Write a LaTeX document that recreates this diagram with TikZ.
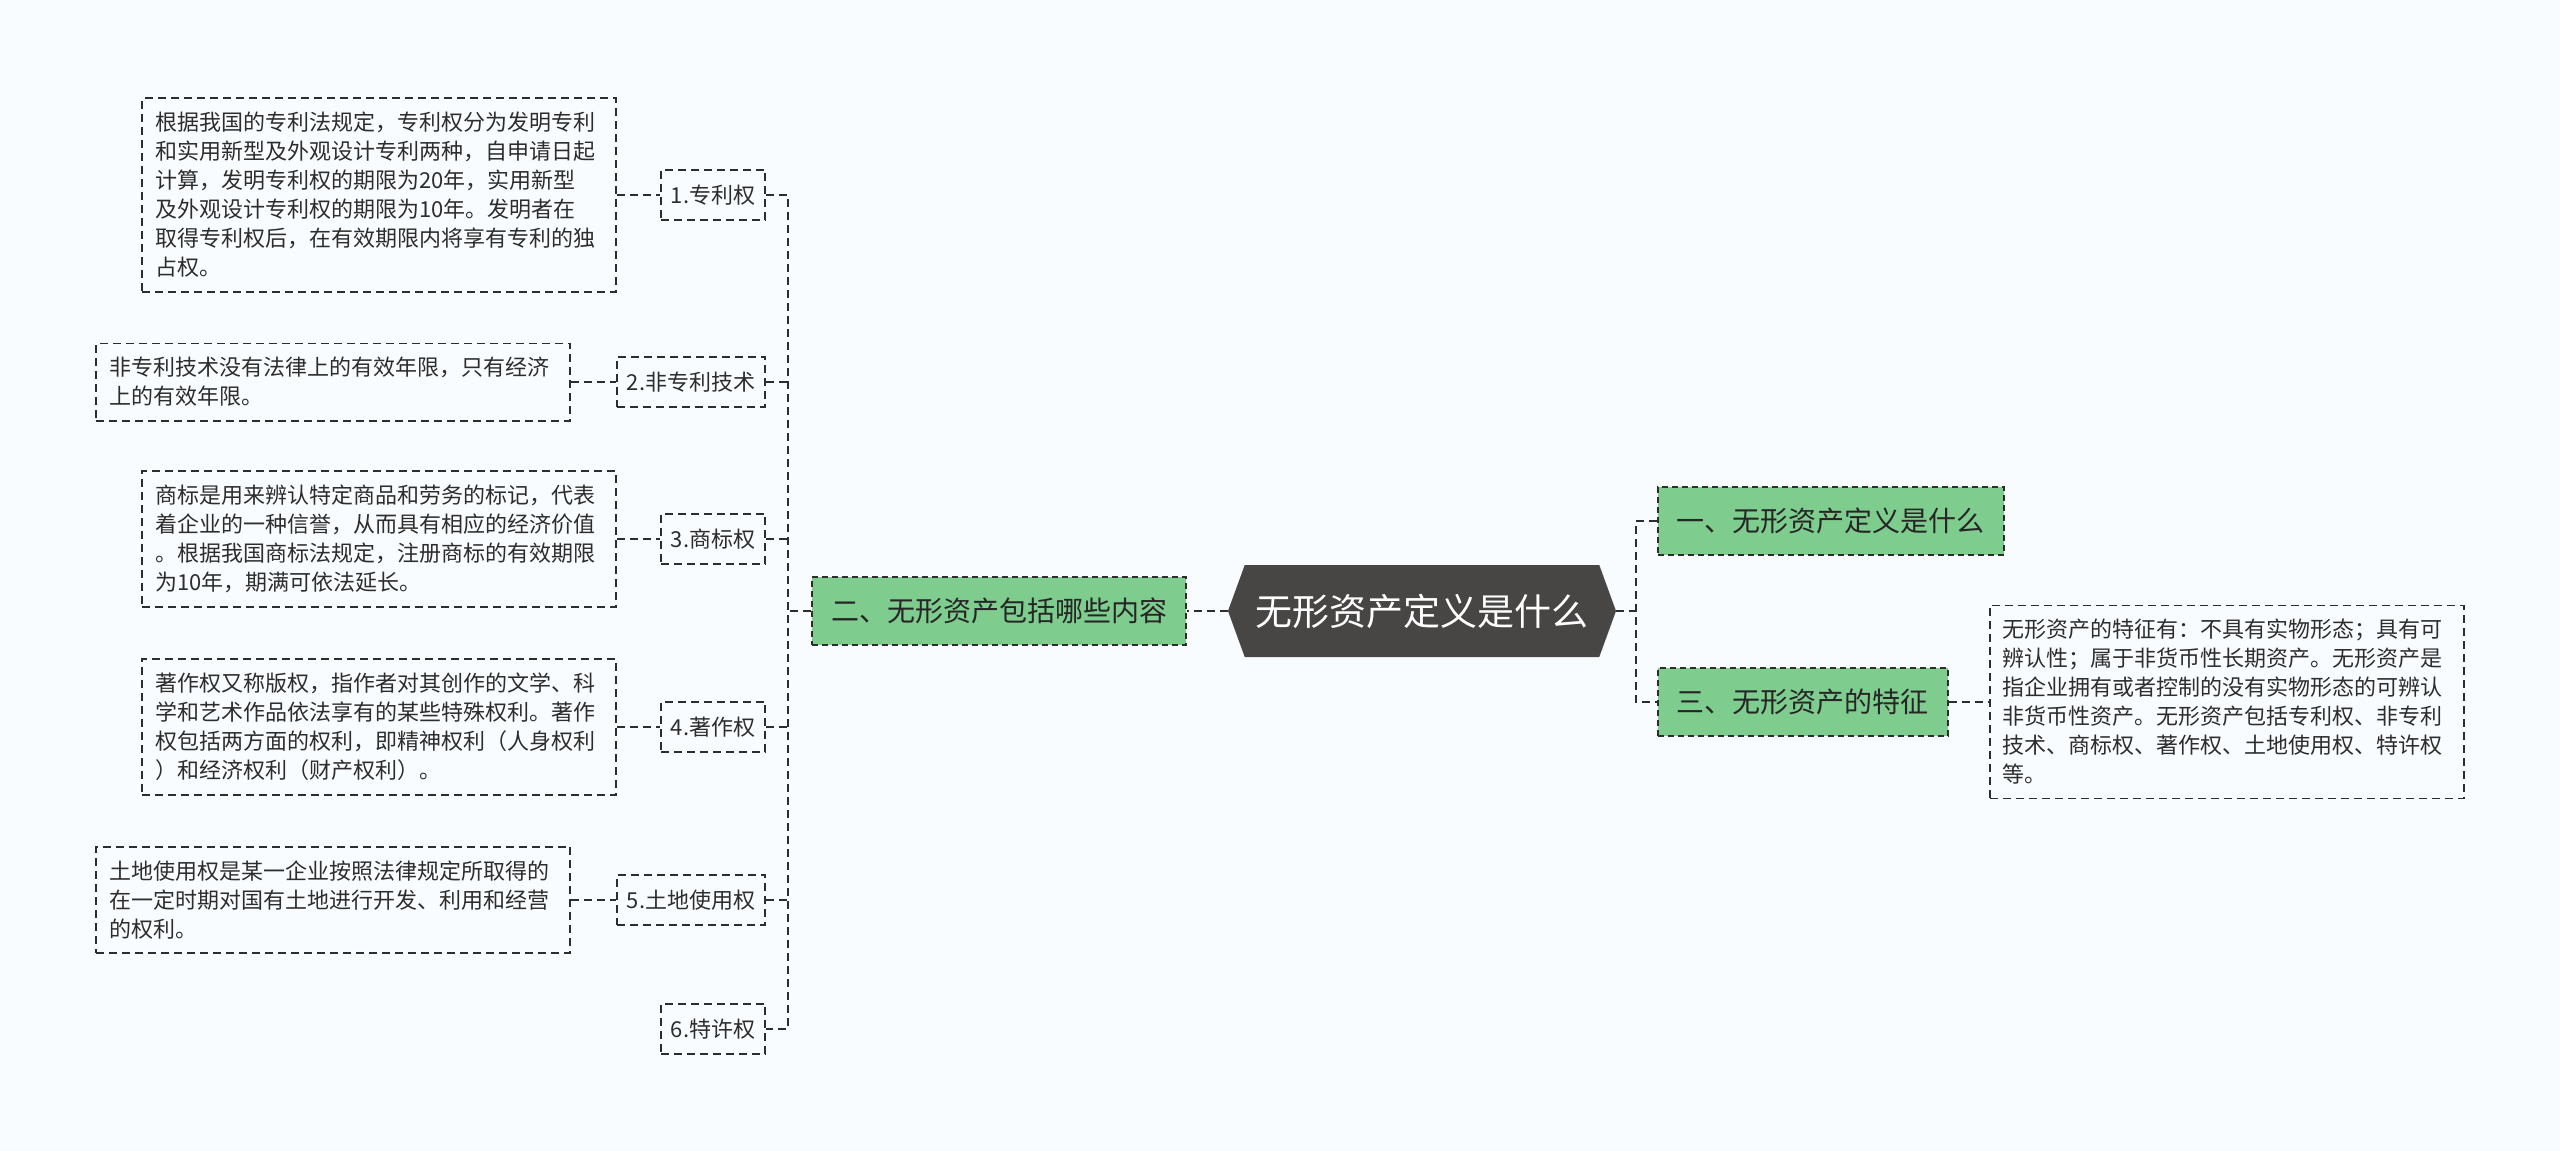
\documentclass[tikz,border=0pt]{standalone}
\usepackage{fontspec}
\setmainfont{Noto Sans CJK SC}
\usetikzlibrary{shapes.symbols}
\XeTeXlinebreaklocale "zh"

\definecolor{bgpaper}{RGB}{249,252,254}
\definecolor{leafgreen}{RGB}{127,204,143}
\definecolor{rootgray}{RGB}{72,69,69}
\definecolor{inkgray}{RGB}{45,45,45}

\tikzset{
  conn/.style={draw=inkgray, line width=1.8pt, dash pattern=on 8pt off 5pt},
  rootbox/.style={signal, signal to=west and east, signal pointer angle=140,
    fill=rootgray, text=white, minimum width=388pt, minimum height=92pt,
    inner sep=0pt, font=\fontsize{37}{40}\selectfont},
  topicbox/.style={fill=leafgreen, draw=inkgray, line width=1.6pt,
    dash pattern=on 6pt off 4pt, minimum height=68pt, inner xsep=19pt,
    inner ysep=0pt, text=black!85, font=\fontsize{28}{32}\selectfont},
  itembox/.style={draw=inkgray, line width=1.6pt, dash pattern=on 8pt off 5pt,
    minimum height=50pt, inner xsep=10pt, inner ysep=0pt, text=inkgray,
    font=\fontsize{22}{26}\selectfont},
  notebox/.style={draw=inkgray, line width=1.6pt, dash pattern=on 8pt off 5pt,
    align=left, text width=448pt, inner xsep=13pt, inner ysep=14pt,
    text=inkgray, font=\fontsize{22}{29}\selectfont},
}

\begin{document}
\begin{tikzpicture}[x=1pt,y=-1pt]

% BACKGROUND
\fill[bgpaper] (0,0) rectangle (2560,1151);
\useasboundingbox (0,0) rectangle (2560,1151);

% ROOT
\node[rootbox] (root) at (1422,611) {无形资产定义是什么};

% LEFT TOPIC
\node[topicbox, anchor=east] (topic2) at (1187,611) {二、无形资产包括哪些内容};
\coordinate (lbus) at (788,611);

\node[itembox, anchor=east] (item1) at (766,195) {1.专利权};
\node[itembox, anchor=east] (item2) at (766,382) {2.非专利技术};
\node[itembox, anchor=east] (item3) at (766,539) {3.商标权};
\node[itembox, anchor=east] (item4) at (766,727) {4.著作权};
\node[itembox, anchor=east] (item5) at (766,900) {5.土地使用权};
\node[itembox, anchor=east] (item6) at (766,1029) {6.特许权};

\node[notebox, anchor=east] (note1) at (617,195) {根据我国的专利法规定，专利权分为发明专利\\和实用新型及外观设计专利两种，自申请日起\\计算，发明专利权的期限为20年，实用新型\\及外观设计专利权的期限为10年。发明者在\\取得专利权后，在有效期限内将享有专利的独\\占权。};
\node[notebox, anchor=east] (note2) at (571,382) {非专利技术没有法律上的有效年限，只有经济\\上的有效年限。};
\node[notebox, anchor=east] (note3) at (617,539) {商标是用来辨认特定商品和劳务的标记，代表\\着企业的一种信誉，从而具有相应的经济价值\\。根据我国商标法规定，注册商标的有效期限\\为10年，期满可依法延长。};
\node[notebox, anchor=east] (note4) at (617,727) {著作权又称版权，指作者对其创作的文学、科\\学和艺术作品依法享有的某些特殊权利。著作\\权包括两方面的权利，即精神权利（人身权利\\）和经济权利（财产权利）。};
\node[notebox, anchor=east] (note5) at (571,900) {土地使用权是某一企业按照法律规定所取得的\\在一定时期对国有土地进行开发、利用和经营\\的权利。};

\draw[conn] (root.west) -- (topic2.east);
\draw[conn] (topic2.west) -- (lbus);
\draw[conn] (item1.east) -- (item1.east -| lbus) -- (item6.east -| lbus) -- (item6.east);
\foreach \i in {2,...,5}
  \draw[conn] (item\i.east) -- (item\i.east -| lbus);
\foreach \i in {1,...,5}
  \draw[conn] (note\i.east) -- (item\i.west);

% RIGHT TOPICS
\coordinate (rbus) at (1636,611);
\node[topicbox, anchor=west] (topic1) at (1657,521) {一、无形资产定义是什么};
\node[topicbox, anchor=west] (topic3) at (1657,702) {三、无形资产的特征};
\node[notebox, anchor=west] (note6) at (1989,702) {无形资产的特征有：不具有实物形态；具有可\\辨认性；属于非货币性长期资产。无形资产是\\指企业拥有或者控制的没有实物形态的可辨认\\非货币性资产。无形资产包括专利权、非专利\\技术、商标权、著作权、土地使用权、特许权\\等。};

\draw[conn] (root.east) -- (rbus);
\draw[conn] (topic1.west) -- (topic1.west -| rbus) -- (topic3.west -| rbus) -- (topic3.west);
\draw[conn] (topic3.east) -- (note6.west);

\end{tikzpicture}
\end{document}
